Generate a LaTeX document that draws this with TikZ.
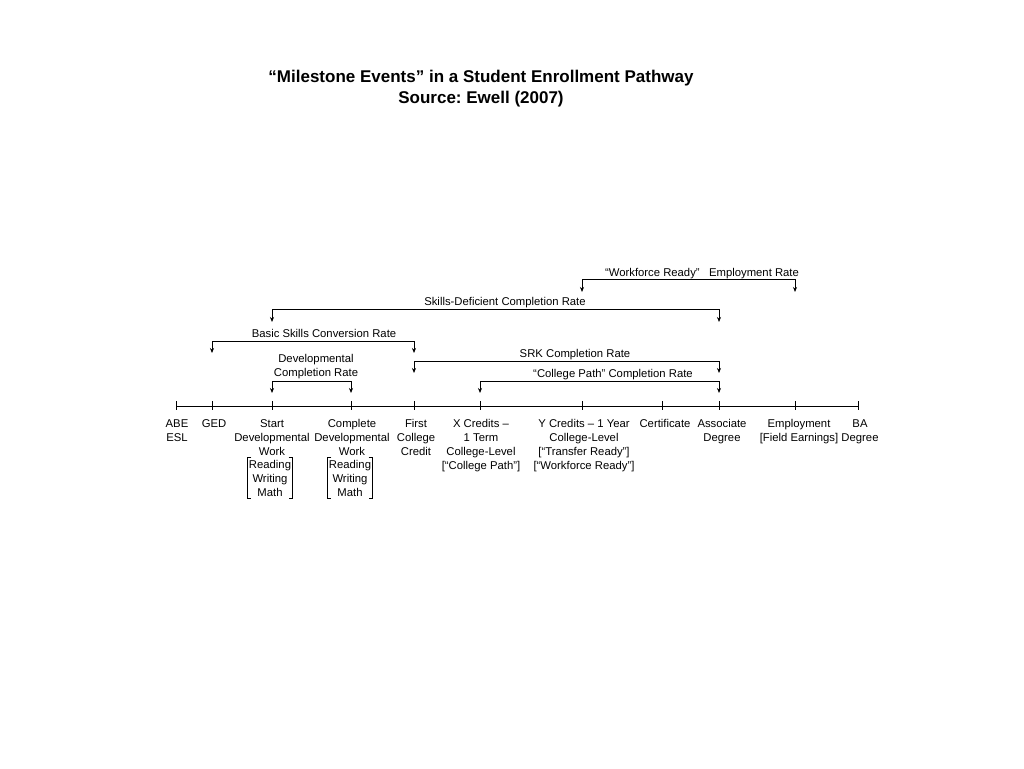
\documentclass[tikz,border=0pt]{standalone}
\usepackage{fontspec}
\setmainfont{Liberation Sans}
\usepackage{tikz}
\usetikzlibrary{calc, positioning, arrows.meta}

\begin{document}
\begin{tikzpicture}[x=1pt, y=-1pt]
    % Definindo os estilos
    \tikzstyle{milestone} = [anchor=base, align=center, inner sep=0pt, font=\fontsize{11.3}{14}\selectfont]
    \tikzstyle{skills} = [align=center, inner xsep=0pt, inner ysep=2pt, minimum width=45pt, font=\fontsize{11.3}{14}\selectfont]
    \tikzstyle{rate_label} = [anchor=base, align=center, inner sep=0pt, font=\fontsize{11.3}{14}\selectfont]
    \tikzstyle{title} = [anchor=base, inner sep=0pt, font=\bfseries\fontsize{17}{20}\selectfont\frenchspacing]
    \tikzstyle{timeline} = [draw, line width=0.7pt]
    \tikzstyle{rate} = [draw, line width=0.7pt, {Stealth[length=5pt, width=4pt]}-{Stealth[length=5pt, width=4pt]}]
    \tikzstyle{bracket} = [draw, line width=0.7pt]

    \useasboundingbox (0,0) rectangle (1024,768);

    % Titulo
    \node [title] (title) at (481,82) {``Milestone Events'' in a Student Enrollment Pathway};
    \node [title] (source) at (481,103) {Source: Ewell (2007)};

    % Marcos na linha do tempo
    \coordinate (abe) at (176,406);
    \coordinate (ged) at (212,406);
    \coordinate (start) at (272,406);
    \coordinate (complete) at (351,406);
    \coordinate (first) at (414,406);
    \coordinate (xcred) at (480,406);
    \coordinate (ycred) at (582,406);
    \coordinate (cert) at (662,406);
    \coordinate (assoc) at (719,406);
    \coordinate (employ) at (795,406);
    \coordinate (ba) at (858,406);

    % Linha do tempo
    \path [timeline] (abe) -- (ba);
    \foreach \m in {abe, ged, start, complete, first, xcred, ycred, cert, assoc, employ, ba}
        \path [timeline] ($(\m)+(0,-5)$) -- ($(\m)+(0,4)$);

    % Rotulos dos marcos (base = ultima linha)
    \node [milestone] (abe_lbl) at ($(abe)+(1,35)$) {ABE\\ESL};
    \node [milestone] (ged_lbl) at ($(ged)+(2,21)$) {GED};
    \node [milestone] (start_lbl) at ($(start)+(0,49)$) {Start\\Developmental\\Work};
    \node [milestone] (complete_lbl) at ($(complete)+(1,49)$) {Complete\\Developmental\\Work};
    \node [milestone] (first_lbl) at ($(first)+(2,49)$) {First\\College\\Credit};
    \node [milestone] (xcred_lbl) at ($(xcred)+(1,63)$) {X Credits --\\1 Term\\College-Level\\{}[``College Path'']};
    \node [milestone] (ycred_lbl) at ($(ycred)+(2,63)$) {Y Credits -- 1 Year\\College-Level\\{}[``Transfer Ready'']\\{}[``Workforce Ready'']};
    \node [milestone] (cert_lbl) at ($(cert)+(3,21)$) {Certificate};
    \node [milestone] (assoc_lbl) at ($(assoc)+(3,35)$) {Associate\\Degree};
    \node [milestone] (employ_lbl) at ($(employ)+(4,35)$) {Employment\\{}[Field Earnings]};
    \node [milestone] (ba_lbl) at ($(ba)+(2,35)$) {BA\\Degree};

    % Disciplinas de nivelamento
    \node [skills] (start_skills) at (270,478) {Reading\\Writing\\Math};
    \node [skills] (complete_skills) at (350,478) {Reading\\Writing\\Math};
    \path [bracket] ($(start_skills.north west)+(4,0)$) -- (start_skills.north west) -- (start_skills.south west) -- ++(4,0);
    \path [bracket] ($(start_skills.north east)+(-4,0)$) -- (start_skills.north east) -- (start_skills.south east) -- ++(-4,0);
    \path [bracket] ($(complete_skills.north west)+(4,0)$) -- (complete_skills.north west) -- (complete_skills.south west) -- ++(4,0);
    \path [bracket] ($(complete_skills.north east)+(-4,0)$) -- (complete_skills.north east) -- (complete_skills.south east) -- ++(-4,0);

    % Niveis das taxas
    \coordinate (workforce_bar) at (0,279);
    \coordinate (workforce_tip) at (0,292);
    \coordinate (deficient_bar) at (0,309);
    \coordinate (deficient_tip) at (0,322);
    \coordinate (basic_bar) at (0,341);
    \coordinate (basic_tip) at (0,353);
    \coordinate (srk_bar) at (0,361);
    \coordinate (srk_tip) at (0,373);
    \coordinate (dev_bar) at (0,381);
    \coordinate (dev_tip) at (0,393);
    \coordinate (path_bar) at (0,381);
    \coordinate (path_tip) at (0,393);

    % Taxas entre os marcos
    \path [rate] (ycred |- workforce_tip) |- (employ |- workforce_bar) -- (employ |- workforce_tip);
    \path [rate] (start |- deficient_tip) |- (assoc |- deficient_bar) -- (assoc |- deficient_tip);
    \path [rate] (ged |- basic_tip) |- (first |- basic_bar) -- (first |- basic_tip);
    \path [rate] (first |- srk_tip) |- (assoc |- srk_bar) -- (assoc |- srk_tip);
    \path [rate] (start |- dev_tip) |- (complete |- dev_bar) -- (complete |- dev_tip);
    \path [rate] (xcred |- path_tip) |- (assoc |- path_bar) -- (assoc |- path_tip);

    % Rotulos das taxas
    \node [rate_label] (workforce_lbl) at (702,276) {``Workforce Ready''\ \ \ Employment Rate};
    \node [rate_label] (deficient_lbl) at (505,305) {Skills-Deficient Completion Rate};
    \node [rate_label] (basic_lbl) at (324,337) {Basic Skills Conversion Rate};
    \node [rate_label] (srk_lbl) at (575,357) {SRK Completion Rate};
    \node [rate_label] (dev_lbl) at (316,376) {Developmental\\Completion Rate};
    \node [rate_label] (path_lbl) at (613,377) {``College Path'' Completion Rate};
\end{tikzpicture}
\end{document}
